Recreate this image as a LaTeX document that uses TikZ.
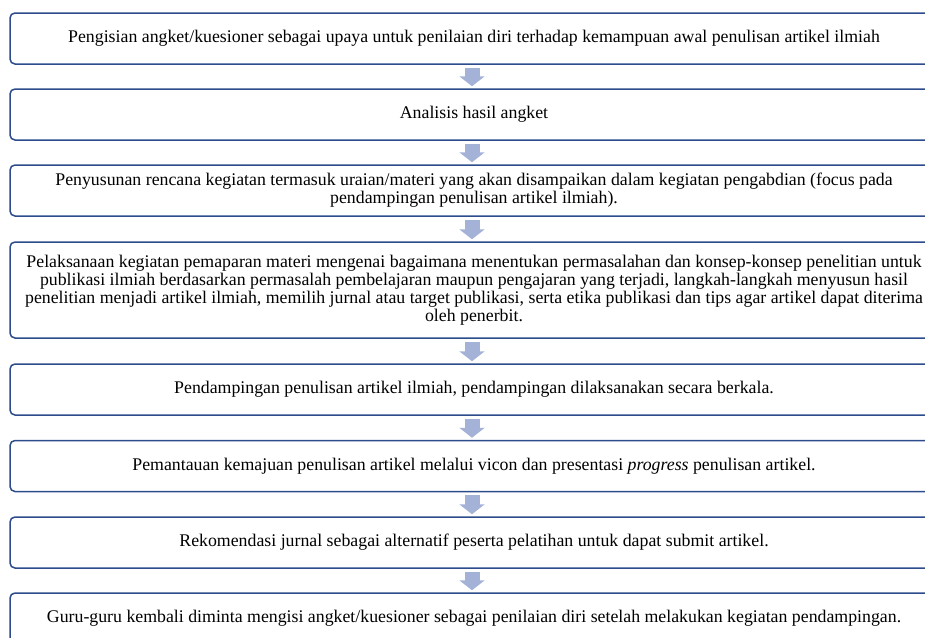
\documentclass[tikz,border=0pt]{standalone}
\usepackage{fontspec}
\setmainfont{Liberation Serif}
\usetikzlibrary{arrows.meta,positioning}
\definecolor{boxblue}{RGB}{44,76,140}
\definecolor{arrowblue}{RGB}{165,178,216}

\begin{document}
\begin{tikzpicture}[x=1pt,y=-1pt,
  stepbox/.style={draw=boxblue,line width=1.5pt,rounded corners=5pt,fill=white,
    minimum width=928pt,minimum height=51pt,align=center,inner sep=0pt,
    font=\fontsize{17.8}{18}\selectfont},
  tallbox/.style={stepbox,minimum height=96pt},
  blockarrow/.style={arrowblue,line width=15pt,
    -{Triangle[width=25pt,length=10pt]}}]

  \useasboundingbox (0,0) rectangle (925,637);
  \clip (0,0) rectangle (925,637);

  \node[stepbox] (s1) at (474,38.5) {Pengisian angket/kuesioner sebagai upaya untuk penilaian diri terhadap kemampuan awal penulisan artikel ilmiah};
  \node[stepbox] (s2) at (474,114.5) {Analisis hasil angket};
  \node[stepbox] (s3) at (474,190.5) {Penyusunan rencana kegiatan termasuk uraian/materi yang akan disampaikan dalam kegiatan pengabdian (focus pada\\
    pendampingan penulisan artikel ilmiah).};
  \node[tallbox] (s4) at (474,290) {Pelaksanaan kegiatan pemaparan materi mengenai bagaimana menentukan permasalahan dan konsep-konsep penelitian untuk\\
    publikasi ilmiah berdasarkan permasalah pembelajaran maupun pengajaran yang terjadi, langkah-langkah menyusun hasil\\
    penelitian menjadi artikel ilmiah, memilih jurnal atau target publikasi, serta etika publikasi dan tips agar artikel dapat diterima\\
    oleh penerbit.};
  \node[stepbox] (s5) at (474,389.5) {Pendampingan penulisan artikel ilmiah, pendampingan dilaksanakan secara berkala.};
  \node[stepbox] (s6) at (474,466) {Pemantauan kemajuan penulisan artikel melalui vicon dan presentasi \textit{progress} penulisan artikel.};
  \node[stepbox] (s7) at (474,542.5) {Rekomendasi jurnal sebagai alternatif peserta pelatihan untuk dapat submit artikel.};
  \node[stepbox] (s8) at (474,618.5) {Guru-guru kembali diminta mengisi angket/kuesioner sebagai penilaian diri setelah melakukan kegiatan pendampingan.};

  % block arrows between the steps
  \foreach \a/\b in {s1/s2,s2/s3,s3/s4,s4/s5,s5/s6,s6/s7,s7/s8}
    \draw[blockarrow] ([xshift=-2pt,yshift=-3pt]\a.south) -- ([xshift=-2pt,yshift=2pt]\b.north);

\end{tikzpicture}
\end{document}
